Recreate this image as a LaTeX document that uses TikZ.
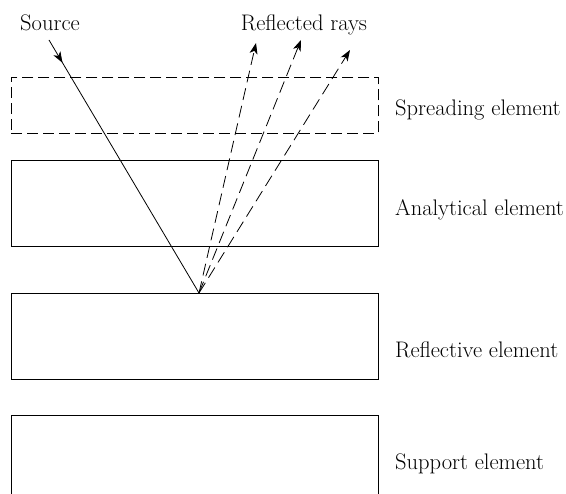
\documentclass[tikz,border=0pt]{standalone}
\usepackage{tikz}
\usetikzlibrary{
  arrows.meta,
  decorations.markings
}
\tikzset{
  layer/.style={draw, line width=0.9pt, rectangle, inner sep=0pt,
    minimum width=367pt, minimum height=86pt, anchor=north west},
  dashlayer/.style={layer, minimum height=56pt, dash pattern=on 11pt off 5pt},
  ray/.style={line width=0.8pt},
  reflray/.style={ray, dash pattern=on 12pt off 6pt, -{Stealth[length=11pt, width=8pt, inset=3pt]}},
  lbl/.style={font=\fontsize{22.5}{26}\selectfont, inner sep=0pt, anchor=base west}
}
\begin{document}
\begin{tikzpicture}[x=1pt,y=-1pt]
\useasboundingbox (0,0) rectangle (566,494);
% layers
\node[dashlayer] (spread) at (11,77) {};
\node[layer] (anal) at (11,160) {};
\node[layer] (refl) at (11,293) {};
\draw[line width=0.9pt] (11,494) -- (11,415) coordinate (supp) -- (378,415) -- (378,494);
% labels
\node[lbl] (lspread) at (395,116) {Spreading element};
\node[lbl] (lanal) at (395,216) {Analytical element};
\node[lbl] (lrefl) at (395,358) {Reflective element};
\node[lbl] (lsupp) at (395,470) {Support element};
\node[lbl, anchor=base] (lsrc) at (50,31) {Source};
\node[lbl, anchor=base] (lrays) at (304,31) {Reflected rays};
% rays
\coordinate (src) at (49,40);
\coordinate (hit) at (199,293);
\coordinate (r1) at (256,43);
\coordinate (r2) at (301,40);
\coordinate (r3) at (350,50);
\draw[ray, decoration={markings, mark=at position 0.09 with {\arrow{Stealth[length=11pt, width=8pt, inset=3pt]}}},
  postaction={decorate}] (src) -- (hit);
\draw[reflray] (hit) -- (r1);
\draw[reflray] (hit) -- (r2);
\draw[reflray] (hit) -- (r3);
\end{tikzpicture}
\end{document}
